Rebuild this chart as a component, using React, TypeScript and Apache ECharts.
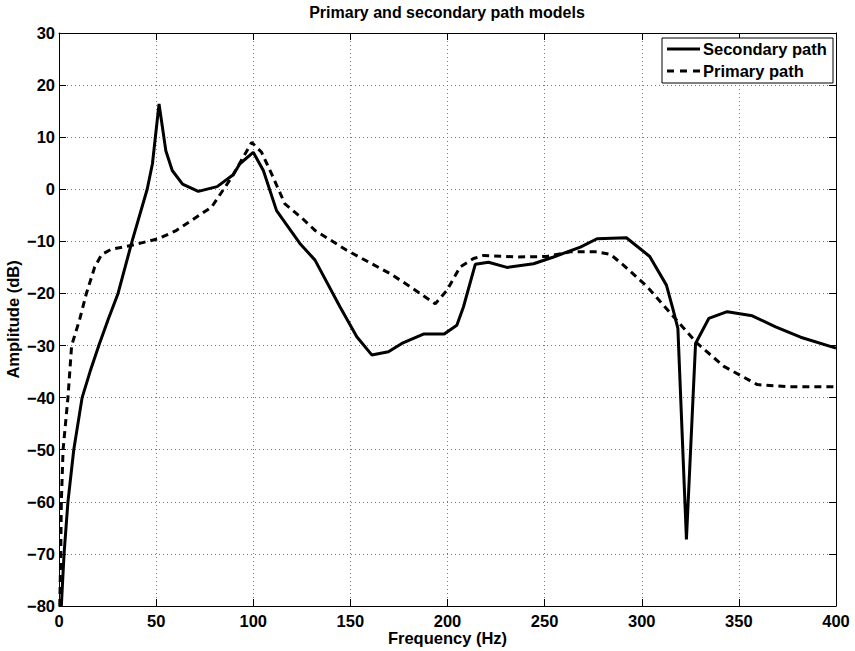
import React, { useEffect, useRef } from "react";
import * as echarts from "echarts";

const secondaryFreq = [1.2, 2.6, 4.6, 7.6, 11.9, 16, 20.5, 25.4, 30.4, 37.6, 45.4, 48.1, 51.5, 55, 58.3, 63.6, 71.7, 81.4, 89.7, 93.1, 100, 105.2, 112, 124, 131.8, 144.7, 153.3, 161, 169.6, 176.5, 187.6, 198.3, 204.8, 208.2, 214.3, 221.1, 230.6, 244.3, 254.6, 268.4, 277, 292.1, 304.1, 312.7, 316.2, 318.6, 323, 327.7, 334.5, 344, 356.9, 368.9, 381.8, 400];
const secondaryAmp = [-80, -70, -60, -50, -40, -35, -30, -24.9, -20, -10, 0, 4.9, 16.4, 7.4, 3.6, 1.0, -0.4, 0.5, 2.8, 4.9, 7.1, 3.6, -4.1, -10.4, -13.6, -22.6, -28.3, -31.8, -31.2, -29.6, -27.8, -27.8, -26.1, -22.6, -14.4, -14.0, -15.0, -14.3, -13.0, -11.1, -9.5, -9.3, -12.9, -18.4, -23.2, -26.7, -67.2, -29.6, -24.8, -23.5, -24.3, -26.4, -28.4, -30.5];

const primaryFreq = [0.4, 0.9, 1.2, 2.1, 4.6, 6.5, 10.7, 14.1, 18.4, 22, 27, 37, 51, 60, 68.2, 78.6, 88.9, 99.2, 104.3, 109.5, 116.3, 125, 131.8, 148.1, 170.5, 180.8, 193.7, 199.7, 206.5, 213.4, 218.6, 235.8, 251.2, 263.2, 277, 283.9, 290.7, 302.8, 314.8, 328.6, 342.3, 359.5, 375, 400];
const primaryAmp = [-80, -70, -60, -50, -40, -30, -24.9, -20, -14.9, -12.5, -11.5, -10.8, -9.5, -8, -6, -3.4, 2.3, 9.0, 7.1, 2.9, -2.8, -5.5, -7.9, -11.7, -16.2, -18.7, -22, -19.4, -14.9, -13.3, -12.7, -13, -12.9, -12.0, -12.0, -12.5, -14.6, -18.7, -23.8, -29.6, -34, -37.5, -37.9, -37.9];

const seriesNames = ["Secondary path", "Primary path"];
const xTicks = { min: 0, max: 400, interval: 50 };
const yTicks = { min: -80, max: 30, interval: 10 };

const FONT = "Liberation Sans, Arial, Helvetica, sans-serif";

export default function App() {
  const ref = useRef<HTMLDivElement>(null);
  useEffect(() => {
    document.body.style.margin = "0";
    const chart = echarts.init(ref.current!, null, { renderer: "svg" });
    const minus = (v: number) => String(v).replace("-", "\u2212");
    const tickStyle = { show: true, inside: true, length: 7, lineStyle: { color: "#000", width: 1 } };
    const axisLine = { show: true, onZero: false, lineStyle: { color: "#000", width: 1 } };
    const splitLine = { show: true, lineStyle: { color: "#777", type: [1, 3], width: 1 } };
    const labelStyle = { color: "#000", fontFamily: FONT, fontWeight: "bold" as const, fontSize: 16.5 };
    const legendFont = `bold 16.5px ${FONT}`;
    chart.setOption({
      animation: false,
      backgroundColor: "#fff",
      grid: { left: 59, top: 33, right: 19, bottom: 45, containLabel: false, outerBoundsMode: "none" },
      graphic: [
        {
          type: "text",
          x: 447,
          y: 12,
          style: {
            text: "Primary and secondary path models",
            font: `bold 16px ${FONT}`,
            fill: "#000",
            textAlign: "center",
            textVerticalAlign: "middle",
          },
        },
        {
          type: "rect",
          shape: { x: 662, y: 38, width: 171, height: 45 },
          style: { fill: "#fff", stroke: "#000", lineWidth: 1 },
          z: 10,
        },
        {
          type: "line",
          shape: { x1: 667, y1: 49, x2: 700, y2: 49 },
          style: { stroke: "#000", lineWidth: 3 },
          z: 11,
        },
        {
          type: "line",
          shape: { x1: 667, y1: 71, x2: 700, y2: 71 },
          style: { stroke: "#000", lineWidth: 3, lineDash: [7, 6] },
          z: 11,
        },
        {
          type: "text",
          x: 703,
          y: 49,
          style: { text: seriesNames[0], font: legendFont, fill: "#000", textAlign: "left", textVerticalAlign: "middle" },
          z: 11,
        },
        {
          type: "text",
          x: 703,
          y: 71,
          style: { text: seriesNames[1], font: legendFont, fill: "#000", textAlign: "left", textVerticalAlign: "middle" },
          z: 11,
        },
      ],
      xAxis: [
        {
          type: "value",
          ...xTicks,
          position: "bottom",
          axisLine,
          axisTick: tickStyle,
          splitLine,
          axisLabel: { ...labelStyle, margin: 6, formatter: minus },
          name: "Frequency (Hz)",
          nameLocation: "middle",
          nameGap: 23,
          nameMoveOverlap: false,
          nameTextStyle: { ...labelStyle },
        },
        {
          type: "value",
          ...xTicks,
          position: "top",
          axisLine,
          axisTick: tickStyle,
          splitLine: { show: false },
          axisLabel: { show: false },
        },
      ],
      yAxis: [
        {
          type: "value",
          ...yTicks,
          position: "left",
          axisLine,
          axisTick: tickStyle,
          splitLine,
          axisLabel: { ...labelStyle, margin: 4, formatter: minus },
          name: "Amplitude (dB)",
          nameLocation: "middle",
          nameGap: 38,
          nameMoveOverlap: false,
          nameTextStyle: { ...labelStyle },
        },
        {
          type: "value",
          ...yTicks,
          position: "right",
          axisLine,
          axisTick: tickStyle,
          splitLine: { show: false },
          axisLabel: { show: false },
        },
      ],
      series: [
        {
          name: seriesNames[0],
          type: "line",
          xAxisIndex: 0,
          yAxisIndex: 0,
          symbol: "none",
          lineStyle: { color: "#000", width: 3 },
          itemStyle: { color: "#000" },
          data: secondaryFreq.map((f, i) => [f, secondaryAmp[i]]),
        },
        {
          name: seriesNames[1],
          type: "line",
          xAxisIndex: 0,
          yAxisIndex: 0,
          symbol: "none",
          lineStyle: { color: "#000", width: 3, type: [7, 5] },
          itemStyle: { color: "#000" },
          data: primaryFreq.map((f, i) => [f, primaryAmp[i]]),
        },
      ],
    });
    return () => chart.dispose();
  }, []);
  return <div ref={ref} style={{ width: 855, height: 651 }} />;
}
